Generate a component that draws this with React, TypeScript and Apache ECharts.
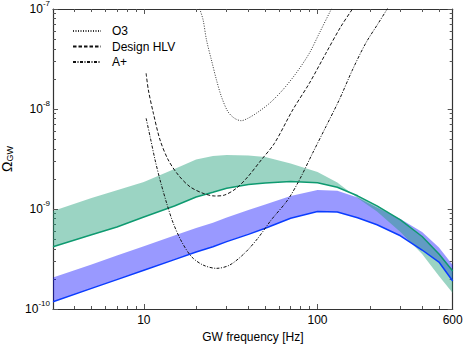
import React, { useEffect, useRef } from 'react';
import * as echarts from 'echarts';

// ---- data (raw units: Hz, Omega_GW) ----
const bandFreq = [3, 5, 7, 10, 15, 20, 25, 30, 40, 50, 70, 100, 130, 170, 220, 300, 400, 500, 600];
const greenLine = [4.2e-10, 5.52e-10, 6.61e-10, 8.32e-10, 1.072e-9, 1.318e-9, 1.47e-9, 1.61e-9, 1.758e-9, 1.82e-9, 1.884e-9, 1.828e-9, 1.652e-9, 1.355e-9, 1.076e-9, 7.8e-10, 5.31e-10, 3.55e-10, 2.4e-10];
const greenEdge = [9.55e-10, 1.288e-9, 1.538e-9, 1.862e-9, 2.51e-9, 3.13e-9, 3.39e-9, 3.46e-9, 3.43e-9, 3.31e-9, 2.85e-9, 2.34e-9, 1.84e-9, 1.288e-9, 9.44e-10, 5.89e-10, 3.55e-10, 2.14e-10, 1.445e-10];
const blueLine = [1.183e-10, 1.607e-10, 1.968e-10, 2.44e-10, 3.12e-10, 3.72e-10, 4.2e-10, 4.72e-10, 5.58e-10, 6.41e-10, 8.07e-10, 9.44e-10, 9.35e-10, 8.18e-10, 6.95e-10, 5.4e-10, 3.89e-10, 2.95e-10, 1.905e-10];
const blueEdge = [2.06e-10, 2.79e-10, 3.42e-10, 4.24e-10, 5.42e-10, 6.47e-10, 7.3e-10, 8.2e-10, 9.77e-10, 1.109e-9, 1.349e-9, 1.549e-9, 1.521e-9, 1.3e-9, 1.038e-9, 7.94e-10, 5.89e-10, 4.12e-10, 2.75e-10];

const o3Freq = [20.6, 21.0, 21.95, 22.95, 24.5, 26.2, 27.98, 30.5, 33.3, 36.4, 39.7, 44.4, 52.9, 63.0, 75.2, 89.7, 102.3, 119.3, 125];
const o3Omega = [1.12e-7, 1.0e-7, 7.76e-8, 4.9e-8, 3.09e-8, 1.95e-8, 1.327e-8, 9.4e-9, 8.07e-9, 7.64e-9, 8.07e-9, 9.06e-9, 1.14e-8, 1.549e-8, 2.275e-8, 3.61e-8, 5.71e-8, 9.77e-8, 1.15e-7];

const hlvFreq = [10.31, 10.62, 11.35, 12.4, 13.83, 15.78, 18.42, 21.95, 25.6, 29.2, 34.1, 39.7, 47.4, 56.5, 71.9, 89.7, 111.7, 136.1, 157.4, 165];
const hlvOmega = [2.275e-8, 1.549e-8, 9.06e-9, 4.9e-9, 3.09e-9, 2.19e-9, 1.671e-9, 1.435e-9, 1.349e-9, 1.38e-9, 1.611e-9, 2.1e-9, 3.09e-9, 4.54e-9, 9.77e-9, 1.807e-8, 3.61e-8, 6.65e-8, 9.77e-8, 1.11e-7];

const apFreq = [10.31, 10.87, 11.61, 12.4, 13.54, 14.78, 16.51, 18.83, 21.95, 26.2, 31.2, 38.0, 45.3, 54.1, 67.3, 78.6, 93.6, 111.7, 133.2, 158.7, 189.3, 223.6, 251.8, 260];
const apOmega = [8.07e-9, 5.28e-9, 3.09e-9, 1.95e-9, 1.14e-9, 7.19e-10, 4.71e-10, 3.33e-10, 2.75e-10, 2.55e-10, 2.75e-10, 3.61e-10, 5.09e-10, 7.76e-10, 1.23e-9, 1.95e-9, 3.61e-9, 6.65e-9, 1.23e-8, 2.45e-8, 4.54e-8, 7.19e-8, 1.0e-7, 1.1e-7];

// ---- axes ----
const xRange = [3, 600];
const yRange = [1e-10, 1e-7];
const xMajorTicks = [10, 100];
const xTickLabels = [10, 100, 600];
const xMinorTicks = [4, 5, 6, 7, 8, 9, 20, 30, 40, 50, 60, 70, 80, 90, 200, 300, 400, 500];
const yMajorTicks = [1e-10, 1e-9, 1e-8, 1e-7];
const yDecades = [1e-10, 1e-9, 1e-8];
const yMultipliers = [2, 3, 4, 5, 6, 7, 8, 9];

const L = Math.log10;
const FONT = '"Liberation Sans", Arial, Helvetica, sans-serif';

const pairs = (fs: number[], vs: number[]) => fs.map((f, i) => [L(f), L(vs[i])]);

export default function App() {
  const ref = useRef<HTMLDivElement>(null);
  useEffect(() => {
    document.body.style.margin = '0';
    const chart = echarts.init(ref.current!, null, { renderer: 'svg' });
    const yMinor: number[] = [];
    yDecades.forEach((d) => yMultipliers.forEach((m) => yMinor.push(L(d * m))));

    const axisLine = { show: true, onZero: false, lineStyle: { color: '#333', width: 1.2 } };
    const tickStyle = { color: '#555', width: 1 };
    const xBase = { type: 'value', min: L(xRange[0]), max: L(xRange[1]), splitLine: { show: false } };
    const yBase = { type: 'value', min: L(yRange[0]), max: L(yRange[1]), splitLine: { show: false } };

    const band = (upper: number[], lower: number[], color: string, opacity: number, z: number) => ({
      type: 'custom',
      z,
      silent: true,
      xAxisIndex: 0,
      yAxisIndex: 0,
      data: bandFreq.map((f, i) => [L(f), L(upper[i]), L(lower[i])]),
      encode: { x: 0, y: [1, 2] },
      renderItem: (params: any, api: any) => {
        if (params.dataIndex !== 0) return null;
        const top = bandFreq.map((f, i) => api.coord([L(f), L(upper[i])]));
        const bot = bandFreq.map((f, i) => api.coord([L(f), L(lower[i])])).reverse();
        return {
          type: 'polygon',
          shape: { points: top.concat(bot) },
          style: { fill: color, opacity, stroke: null },
        };
      },
    });

    const blackLine = (name: string, data: number[][], dash: number[], color: string, width: number) => ({
      type: 'line',
      name,
      z: 5,
      data,
      symbol: 'none',
      smooth: 0.3,
      clip: true,
      lineStyle: { color, width, type: dash },
      itemStyle: { color },
    });

    chart.setOption({
      animation: false,
      grid: { left: 53, right: 10.3, top: 9, bottom: 38, containLabel: false, outerBoundsMode: 'none' },
      legend: {
        data: ['O3', 'Design HLV', 'A+'],
        orient: 'vertical',
        left: 67,
        top: 20,
        itemWidth: 28,
        itemHeight: 12,
        itemGap: 3.5,
        selectedMode: false,
        itemStyle: { opacity: 0 },
        textStyle: { fontSize: 12, color: '#000', fontFamily: FONT, padding: [0, 0, 0, 6] },
      },
      xAxis: [
        {
          ...xBase,
          position: 'bottom',
          axisLine,
          axisTick: { inside: true, length: 5, customValues: xMajorTicks.map(L), lineStyle: tickStyle },
          axisLabel: {
            customValues: xTickLabels.map(L),
            formatter: (v: number) => String(Math.round(Math.pow(10, v))),
            margin: 5,
            fontSize: 12,
            color: '#000',
            fontFamily: FONT,
          },
          name: 'GW frequency [Hz]',
          nameLocation: 'middle',
          nameGap: 21,
          nameTextStyle: { fontSize: 12, color: '#000', fontFamily: FONT },
        },
        {
          ...xBase,
          position: 'bottom',
          axisLine: { show: false },
          axisTick: { inside: true, length: 3, customValues: xMinorTicks.map(L), lineStyle: tickStyle },
          axisLabel: { show: false },
        },
        {
          ...xBase,
          position: 'top',
          axisLine,
          axisTick: { inside: true, length: 5, customValues: xMajorTicks.map(L), lineStyle: tickStyle },
          axisLabel: { show: false },
        },
        {
          ...xBase,
          position: 'top',
          axisLine: { show: false },
          axisTick: { inside: true, length: 3, customValues: xMinorTicks.map(L), lineStyle: tickStyle },
          axisLabel: { show: false },
        },
      ],
      yAxis: [
        {
          ...yBase,
          position: 'left',
          axisLine,
          axisTick: { inside: true, length: 5, customValues: yMajorTicks.map(L), lineStyle: tickStyle },
          axisLabel: {
            customValues: yMajorTicks.map(L),
            formatter: (v: number) => `{b|10}{s|${Math.round(v)}}`,
            margin: 3,
            color: '#000',
            rich: {
              b: { fontSize: 12, lineHeight: 20, fontFamily: FONT, color: '#000' },
              s: { fontSize: 8, lineHeight: 10, verticalAlign: 'top', fontFamily: FONT, color: '#000' },
            },
          },
          name: '{o|Ω}{g|GW}',
          nameLocation: 'middle',
          nameRotate: 90,
          nameGap: 33,
          nameTextStyle: {
            rich: {
              o: { fontSize: 14, lineHeight: 14, fontFamily: FONT, color: '#000' },
              g: { fontSize: 9, lineHeight: 9, verticalAlign: 'bottom', fontFamily: FONT, color: '#000' },
            },
          },
        },
        {
          ...yBase,
          position: 'left',
          axisLine: { show: false },
          axisTick: { inside: true, length: 3, customValues: yMinor, lineStyle: tickStyle },
          axisLabel: { show: false },
        },
        {
          ...yBase,
          position: 'right',
          axisLine,
          axisTick: { inside: true, length: 5, customValues: yMajorTicks.map(L), lineStyle: tickStyle },
          axisLabel: { show: false },
        },
        {
          ...yBase,
          position: 'right',
          axisLine: { show: false },
          axisTick: { inside: true, length: 3, customValues: yMinor, lineStyle: tickStyle },
          axisLabel: { show: false },
        },
      ],
      series: [
        band(blueEdge, blueLine, '#0000ff', 0.4, 1),
        band(greenEdge, greenLine, '#1b9e77', 0.44, 2),
        {
          type: 'line',
          name: 'greenLine',
          z: 3,
          data: pairs(bandFreq, greenLine),
          symbol: 'none',
          lineStyle: { color: '#0e9a70', width: 1.5 },
        },
        {
          type: 'line',
          name: 'blueLine',
          z: 4,
          data: pairs(bandFreq, blueLine),
          symbol: 'none',
          lineStyle: { color: '#0a3cff', width: 1.5 },
        },
        blackLine('O3', pairs(o3Freq, o3Omega), [1, 1.5], '#333', 1),
        blackLine('Design HLV', pairs(hlvFreq, hlvOmega), [3.5, 2], '#111', 1),
        blackLine('A+', pairs(apFreq, apOmega), [3, 1.5, 1, 1.5], '#111', 1),
      ],
    });
    return () => chart.dispose();
  }, []);
  return <div ref={ref} style={{ width: 463, height: 347 }} />;
}
